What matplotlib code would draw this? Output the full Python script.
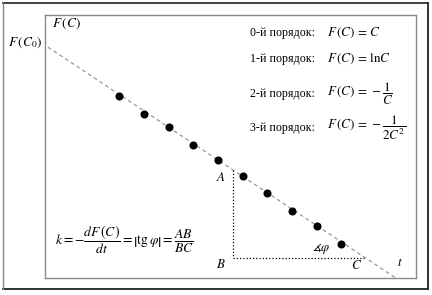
import matplotlib
matplotlib.use("Agg")
import matplotlib.pyplot as plt
from matplotlib.lines import Line2D

plt.rcParams['mathtext.fontset'] = 'stix'
plt.rcParams['font.family'] = ['Liberation Serif', 'DejaVu Serif']

# ---- data ----
t_pts = [3, 4, 5, 6, 7, 8, 9, 10, 11, 12]
F_pts = [11.1, 10.0, 9.2, 8.1, 7.2, 6.2, 5.2, 4.1, 3.2, 2.1]
F0 = 14.2          # intercept F(C0)
k = 1.0            # slope magnitude
t_line = [0.12, 14.2]
tA, tC, FB = 7.6, 12.9, 1.25

orders = ["0-й порядок:", "1-й порядок:", "2-й порядок:", "3-й порядок:"]
formulas = [r"$F\,(C)\,=\,C$", r"$F\,(C)\,=\,\mathrm{ln}C$",
            r"$F\,(C)\,=\,-\dfrac{1}{C}$", r"$F\,(C)\,=\,-\dfrac{1}{2C^2}$"]

W, H = 432, 295
fig = plt.figure(figsize=(W / 100, H / 100), dpi=100)

# data axes (inner box)
L, R, T, B = 45, 416, 15, 278
ax = fig.add_axes([L / W, (H - B) / H, (R - L) / W, (B - T) / H])
ax.set_xlim(0, 15.02)
ax.set_ylim(0, 16.04)
ax.set_xticks([])
ax.set_yticks([])
for s in ax.spines.values():
    s.set_color('#8a8a8a')
    s.set_linewidth(1.0)

# overlay in pixel coordinates for frame/text
ov = fig.add_axes([0, 0, 1, 1])
ov.set_xlim(0, W)
ov.set_ylim(H, 0)
ov.axis('off')
ov.set_zorder(5)
ov.add_line(Line2D([3, 428], [3, 3], color='#333333', lw=1.3))
ov.add_line(Line2D([428, 428], [3, 289], color='#222222', lw=1.3))
ov.add_line(Line2D([3, 428], [289, 289], color='#222222', lw=1.3))
ov.add_line(Line2D([3, 3], [3, 289], color='#888888', lw=1.0))

F_line = [F0 - k * t for t in t_line]
ax.plot(t_line, F_line, color='#999999', lw=0.9, ls=(0, (3, 2.5)), clip_on=False)
ax.plot(t_pts, F_pts, 'o', color='black', ms=4.8, zorder=3)

FA = F0 - k * tA
ax.plot([tA, tA], [FA, FB], color='black', lw=0.9, ls=(0, (1, 1.6)))
ax.plot([tA, tC], [FB, FB], color='black', lw=0.9, ls=(0, (1, 1.6)))

fs = 8.6
ax.text(tA - 0.28, FA - 0.45, r"$A$", fontsize=fs + 0.8, ha='right', va='center')
ax.text(tA - 0.3, FB - 0.45, r"$B$", fontsize=fs + 0.8, ha='right', va='center')
ax.text(tC - 0.3, FB - 0.5, r"$C$", fontsize=fs + 0.8, ha='center', va='center')
ax.text(14.37, 0.92, r"$t$", fontsize=fs + 0.8, ha='center', va='center')
ax.text(11.2, 1.8, r"$\measuredangle\varphi$", fontsize=fs + 0.8, ha='center', va='center')

# axis labels
ov.text(52, 24, r"$F\,(C)$", fontsize=fs + 1, ha='left', va='center')
ov.text(42, 43, r"$F\,(C_0)$", fontsize=fs + 1, ha='right', va='center')

# order list
ys = [33, 59, 94, 128]
for o, f, y in zip(orders, formulas, ys):
    ov.text(250, y, o, fontsize=fs, ha='left', va='center')
    ov.text(327, y, f, fontsize=9.4, ha='left', va='center')

ov.text(55, 240,
        r"$k=-\dfrac{dF\,(C)}{dt}=\left|\mathrm{tg}\,\varphi\right|=\dfrac{AB}{BC}$",
        fontsize=9.8, ha='left', va='center')

fig.savefig("out.png", dpi=100)
